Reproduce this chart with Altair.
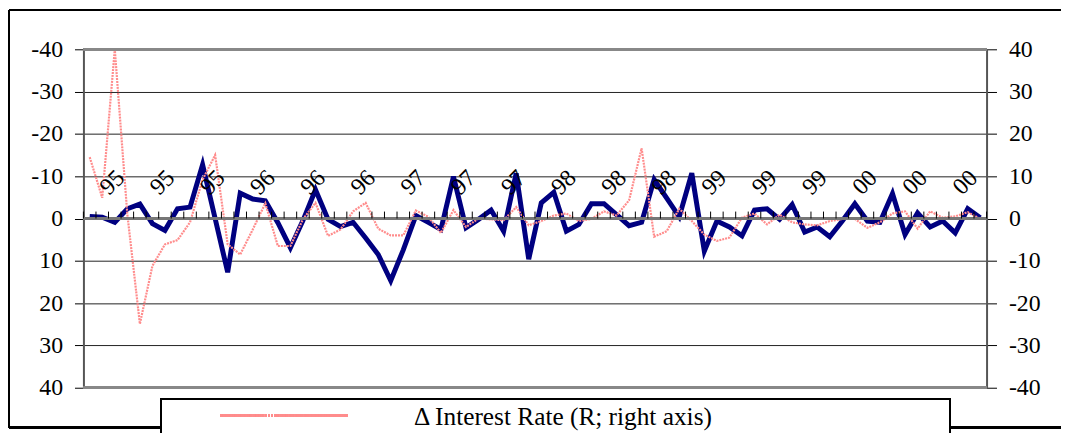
import altair as alt
import pandas as pd

# ---- data (72 monthly observations, 1995-2000) ----
navy_vals = [-0.5, -0.3, 0.9, -2.3, -3.4, 1.2, 2.8, -2.3, -2.7, -12.7,
             0.0, 12.7, -6.0, -4.6, -4.2, 1.0, 6.9, 0.5, -6.8, 0.2,
             1.9, 0.9, 4.6, 8.5, 14.7, 7.4, -0.7, 0.9, 2.6, -9.9,
             2.2, 0.2, -2.0, 3.0, -10.7, 9.6, -3.7, -6.2, 3.0, 1.4,
             -3.5, -3.5, -0.9, 1.7, 0.9, -9.2, -4.8, -0.4, -10.7, 7.7,
             0.6, 2.0, 4.1, -2.0, -2.3, 0.2, -3.3, 3.2, 2.0, 4.3,
             0.6, -3.5, 0.6, 0.9, -5.9, 3.8, -1.3, 2.0, 0.6, 3.4,
             -2.3, -0.2]
pink_vals = [14.5, 4.9, 40.0, 1.0, -24.9, -11.2, -6.1, -5.1, -0.9, 9.2,
             15.0, -6.1, -8.5, -2.6, 3.6, -6.5, -6.5, -0.2, 3.7, -4.1,
             -2.6, 1.7, 3.7, -2.4, -4.0, -4.0, 1.9, 0.4, -3.4, 2.0,
             -2.0, 0.0, -0.2, -0.4, 2.7, -1.6, -0.6, 0.7, 1.2, -0.6,
             -0.1, 1.7, 0.7, 4.3, 16.6, -4.3, -3.0, 2.3, -0.6, -3.8,
             -5.3, -4.5, 0.2, 1.2, -1.4, 0.9, -0.9, -1.4, -1.6, -0.6,
             -0.1, -0.1, -2.2, -0.9, 1.2, 1.7, -2.4, 1.7, 0.2, 0.5,
             1.5, -0.1]
label_texts = ["95", "95", "95", "96", "96", "96", "97", "97", "97",
               "98", "98", "98", "99", "99", "99", "00", "00", "00"]
label_step = 4
axis_ticks = [-40, -30, -20, -10, 0, 10, 20, 30, 40]
legend_label = "\u0394 Interest Rate (R; right axis)"

n = len(navy_vals)
df = pd.DataFrame({"i": list(range(n)), "navy": navy_vals, "pink": pink_vals})
lab_df = pd.DataFrame({"i": [k * label_step for k in range(len(label_texts))],
                       "t": label_texts})
tick_df = pd.DataFrame({"b": [k - 0.5 for k in range(n + 1)]})

FONT = "Liberation Serif"
W, H = 910, 341

xscale = alt.Scale(domain=[-0.5, n - 0.5], nice=False, zero=False)
lscale = alt.Scale(domain=[-40, 40], reverse=True, nice=False, zero=False)
rscale = alt.Scale(domain=[-40, 40], nice=False, zero=False)
lab_expr = "(datum.value < 0 ? '-' : '') + abs(datum.value)"

X = alt.X("i:Q", scale=xscale, axis=None)

navy = alt.Chart(df).mark_line(color="#000080", strokeWidth=5, strokeJoin="miter").encode(
    x=X,
    y=alt.Y("navy:Q", scale=lscale, title=None,
            axis=alt.Axis(orient="left", values=axis_ticks, labelExpr=lab_expr,
                          labelFont=FONT, labelFontSize=24, labelColor="black",
                          tickColor="black", tickSize=9, labelPadding=12,
                          domainColor="#555", domainWidth=2,
                          grid=True, gridColor="#222", gridWidth=1))
)

pink = alt.Chart(df).mark_line(color="#FF8C8C", strokeWidth=2.2, strokeDash=[2, 1]).encode(
    x=X,
    y=alt.Y("pink:Q", scale=rscale, title=None,
            axis=alt.Axis(orient="right", values=axis_ticks, labelExpr=lab_expr,
                          labelFont=FONT, labelFontSize=24, labelColor="black",
                          tickColor="black", tickSize=10, labelPadding=12,
                          domainColor="#555", domainWidth=2, grid=False))
)

zero_line = alt.Chart(df).mark_rule(color="#777", strokeWidth=2).encode(
    x=alt.value(0), x2=alt.value(W),
    y=alt.Y(datum=0, scale=lscale, axis=None)
)

xticks = alt.Chart(tick_df).mark_rule(color="black", strokeWidth=1, y2Offset=-7).encode(
    x=alt.X("b:Q", scale=xscale, axis=None),
    y=alt.Y(datum=0, scale=lscale, axis=None),
    y2=alt.Y2(datum=0)
)

xlabels = alt.Chart(lab_df).mark_text(font=FONT, fontSize=24, angle=315,
                                      align="center", baseline="middle",
                                      color="black", xOffset=23, yOffset=-36).encode(
    x=alt.X("i:Q", scale=xscale, axis=None),
    y=alt.Y(datum=0, scale=lscale, axis=None),
    text="t:N"
)

top_border = alt.Chart(df).mark_rule(color="#888", strokeWidth=2).encode(
    x=alt.value(0), x2=alt.value(W), y=alt.value(0))
bot_border = alt.Chart(df).mark_rule(color="#888", strokeWidth=2).encode(
    x=alt.value(0), x2=alt.value(W), y=alt.value(H))

# outer chart frame (plot-relative pixel offsets)
frame_top = alt.Chart(df).mark_rule(color="black", strokeWidth=1.5).encode(
    x=alt.value(-75), x2=alt.value(985), y=alt.value(-39.5))
frame_left = alt.Chart(df).mark_rule(color="black", strokeWidth=1.5).encode(
    x=alt.value(-75), y=alt.value(-39.5), y2=alt.value(381))
frame_bot = alt.Chart(df).mark_rule(color="black", strokeWidth=1.5).encode(
    x=alt.value(-75), x2=alt.value(78), y=alt.value(381))
frame_bot2 = alt.Chart(df).mark_rule(color="black", strokeWidth=1.5).encode(
    x=alt.value(873), x2=alt.value(985), y=alt.value(381))

# legend box (clipped at bottom like the original)
leg_top = alt.Chart(df).mark_rule(color="black", strokeWidth=1.5).encode(
    x=alt.value(78), x2=alt.value(873), y=alt.value(352))
leg_left = alt.Chart(df).mark_rule(color="black", strokeWidth=1.5).encode(
    x=alt.value(78), y=alt.value(352), y2=alt.value(390))
leg_right = alt.Chart(df).mark_rule(color="black", strokeWidth=1.5).encode(
    x=alt.value(873), y=alt.value(352), y2=alt.value(390))
leg_sample = alt.Chart(df).mark_rule(color="#FF8C8C", strokeWidth=3, strokeDash=[2, 1]).encode(
    x=alt.value(138), x2=alt.value(266), y=alt.value(369))
leg_text = alt.Chart(pd.DataFrame({"t": [legend_label]})).mark_text(
    font=FONT, fontSize=25.5, align="left", baseline="middle", color="black").encode(
    x=alt.value(333), y=alt.value(371), text="t:N")

chart = alt.layer(
    navy, pink, zero_line, xticks, xlabels, top_border, bot_border,
    frame_top, frame_left, frame_bot, frame_bot2,
    leg_top, leg_left, leg_right, leg_sample, leg_text
).resolve_scale(y="independent").properties(
    width=W, height=H,
    autosize=alt.AutoSizeParams(type="none"),
    padding={"left": 76, "top": 40, "right": 75, "bottom": 44},
    background="white"
).configure_view(stroke=None)

chart.save("out.html", embed_options={"renderer": "svg", "actions": False})
